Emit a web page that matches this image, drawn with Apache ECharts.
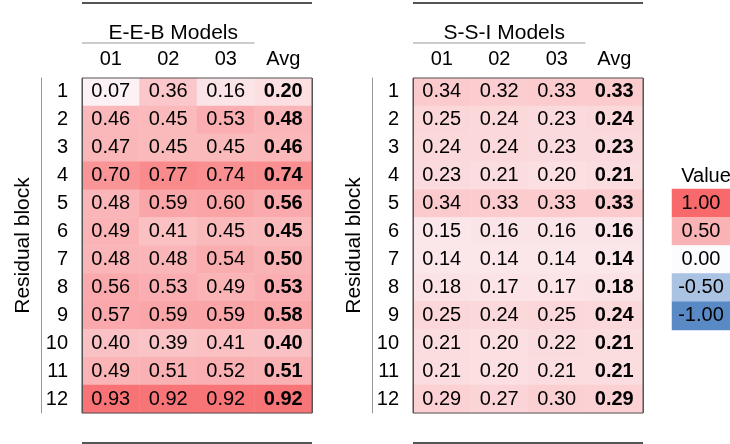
<!DOCTYPE html>
<html><head><meta charset="utf-8">
<script src="https://cdn.jsdelivr.net/npm/echarts@6/dist/echarts.min.js"></script>
<style>html,body{margin:0;padding:0;background:#fff}#c{width:730px;height:444px}</style>
</head><body><div id="c"></div>
<script>
// ---- data ----
var columns = ['01', '02', '03', 'Avg'];
var rows = ['1','2','3','4','5','6','7','8','9','10','11','12'];
var eebTitle = 'E-E-B Models';
var ssiTitle = 'S-S-I Models';
var eeb01 = [0.07,0.46,0.47,0.70,0.48,0.49,0.48,0.56,0.57,0.40,0.49,0.93];
var eeb02 = [0.36,0.45,0.45,0.77,0.59,0.41,0.48,0.53,0.59,0.39,0.51,0.92];
var eeb03 = [0.16,0.53,0.45,0.74,0.60,0.45,0.54,0.49,0.59,0.41,0.52,0.92];
var eebAvg = [0.20,0.48,0.46,0.74,0.56,0.45,0.50,0.53,0.58,0.40,0.51,0.92];
var ssi01 = [0.34,0.25,0.24,0.23,0.34,0.15,0.14,0.18,0.25,0.21,0.21,0.29];
var ssi02 = [0.32,0.24,0.24,0.21,0.33,0.16,0.14,0.17,0.24,0.20,0.20,0.27];
var ssi03 = [0.33,0.23,0.23,0.20,0.33,0.16,0.14,0.17,0.25,0.22,0.21,0.30];
var ssiAvg = [0.33,0.24,0.23,0.21,0.33,0.16,0.14,0.18,0.24,0.21,0.21,0.29];
var legendTitle = 'Value';
var legendValues = [1.00, 0.50, 0.00, -0.50, -1.00];
var yName = 'Residual block';

// ---- build ----
var FONT = 'Liberation Sans, Arial, Helvetica, sans-serif';
var FS = 20;
function build(cols) {
  var out = [];
  cols.forEach(function (arr, ci) {
    arr.forEach(function (v, ri) {
      var item = { value: [ci, ri, v] };
      if (ci === cols.length - 1) item.label = { fontWeight: 'bold' };
      out.push(item);
    });
  });
  return out;
}
var eebData = build([eeb01, eeb02, eeb03, eebAvg]);
var ssiData = build([ssi01, ssi02, ssi03, ssiAvg]);
var legData = legendValues.map(function (v, i) { return [0, i, v]; });

var L1 = 82, L2 = 413, W = 230, TOP = 78, H = 335;
var colW = W / 4;

function grid(left) {
  return { left: left, top: TOP, width: W, height: H, show: true, z: 5,
    borderColor: '#555', borderWidth: 1, backgroundColor: 'transparent' };
}
function xAx(gi) {
  return { type: 'category', data: columns, gridIndex: gi, position: 'top', z: 5,
    axisLine: { show: false }, axisTick: { show: false },
    axisLabel: { color: '#000', fontSize: FS, fontFamily: FONT, margin: 9 },
    splitLine: { show: true, interval: function (i) { return i === 3; }, lineStyle: { color: '#555', width: 1 } } };
}
function yAx(gi) {
  return { type: 'category', data: rows, gridIndex: gi, inverse: true, position: 'left',
    axisLine: { show: false }, axisTick: { show: false },
    axisLabel: { color: '#000', fontSize: FS, fontFamily: FONT, margin: 14 },
    splitLine: { show: false } };
}
function yAxLine(gi) {
  return { type: 'category', data: rows, gridIndex: gi, inverse: true, offset: 41, position: 'left',
    axisLine: { show: true, lineStyle: { color: '#999', width: 1 } }, axisTick: { show: false },
    axisLabel: { show: false }, splitLine: { show: false },
    name: yName, nameLocation: 'middle', nameGap: 7,
    nameTextStyle: { color: '#000', fontSize: 21, fontFamily: FONT } };
}
function heat(data, xi, yi) {
  return { type: 'heatmap', data: data, xAxisIndex: xi, yAxisIndex: yi,
    itemStyle: { borderWidth: 0 },
    label: { show: true, color: '#000', fontSize: FS, fontFamily: FONT,
      formatter: function (p) { return p.value[2].toFixed(2); } },
    emphasis: { disabled: true } };
}
function hline(x1, x2, y, color, w) {
  return { type: 'line', shape: { x1: x1, y1: y, x2: x2, y2: y }, style: { stroke: color, lineWidth: w }, silent: true };
}

var option = {
  animation: false,
  textStyle: { fontFamily: FONT },
  title: [
    { text: eebTitle, left: L1 + colW * 1.5, textAlign: 'center', top: 18,
      textStyle: { fontSize: 21, fontWeight: 'normal', color: '#000', fontFamily: FONT } },
    { text: ssiTitle, left: L2 + colW * 1.5, textAlign: 'center', top: 18,
      textStyle: { fontSize: 21, fontWeight: 'normal', color: '#000', fontFamily: FONT } },
    { text: legendTitle, left: 701, textAlign: 'center', top: 161,
      textStyle: { fontSize: FS, fontWeight: 'normal', color: '#000', fontFamily: FONT } }
  ],
  grid: [grid(L1), grid(L2), { left: 672, top: 189, width: 58, height: 141 }],
  xAxis: [xAx(0), xAx(1),
    { type: 'category', data: ['v'], gridIndex: 2, show: false }],
  yAxis: [yAx(0), yAxLine(0), yAx(1), yAxLine(1),
    { type: 'category', data: legendValues.map(String), gridIndex: 2, inverse: true, show: false }],
  visualMap: { show: false, min: -1, max: 1, calculable: false, seriesIndex: [0, 1, 2],
    inRange: { color: ['#5A8AC6', '#FCFCFF', '#F8696B'] } },
  series: [heat(eebData, 0, 0), heat(ssiData, 1, 2),
    { type: 'heatmap', data: legData, xAxisIndex: 2, yAxisIndex: 4, itemStyle: { borderWidth: 0 },
      label: { show: true, color: '#000', fontSize: FS, fontFamily: FONT,
        formatter: function (p) { return p.value[2].toFixed(2); } }, emphasis: { disabled: true } }],
  graphic: [
    hline(L1, L1 + W, 3, '#555', 2), hline(L2, L2 + W, 3, '#555', 2),
    hline(L1, L1 + W, 443, '#555', 2), hline(L2, L2 + W, 443, '#555', 2),
    hline(L1, L1 + colW * 3, 43, '#ccc', 2), hline(L2, L2 + colW * 3, 43, '#ccc', 2)
  ]
};
var chart = echarts.init(document.getElementById('c'), null, { renderer: 'canvas' });
chart.setOption(option);
</script></body></html>
